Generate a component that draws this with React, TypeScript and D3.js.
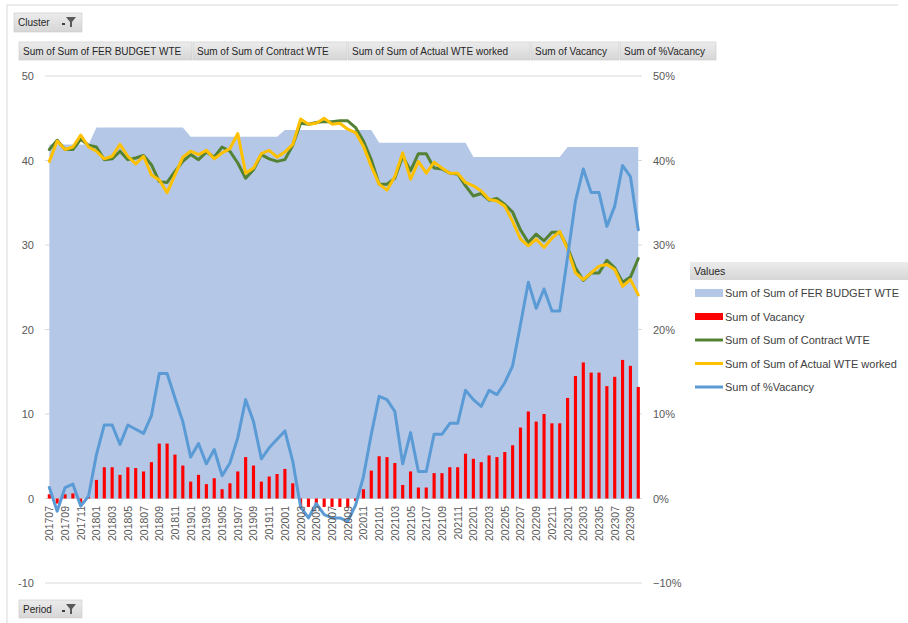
import React from 'react';
import * as d3 from 'd3';

const periods = [
  '201707','201708','201709','201710','201711','201712',
  '201801','201802','201803','201804','201805','201806','201807','201808','201809','201810','201811','201812',
  '201901','201902','201903','201904','201905','201906','201907','201908','201909','201910','201911','201912',
  '202001','202002','202003','202004','202005','202006','202007','202008','202009','202010','202011','202012',
  '202101','202102','202103','202104','202105','202106','202107','202108','202109','202110','202111','202112',
  '202201','202202','202203','202204','202205','202206','202207','202208','202209','202210','202211','202212',
  '202301','202302','202303','202304','202305','202306','202307','202308','202309','202310',
];

const budgetWTE = [
  41.9,41.9,41.9,41.9,41.9,41.9,
  43.9,43.9,43.9,43.9,43.9,43.9,43.9,43.9,43.9,43.9,43.9,43.9,
  42.8,42.8,42.8,42.8,42.8,42.8,42.8,42.8,42.8,42.8,42.8,42.8,
  43.6,43.6,43.6,43.6,43.6,43.6,43.6,43.6,43.6,43.6,43.6,43.6,
  42.1,42.1,42.1,42.1,42.1,42.1,42.1,42.1,42.1,42.1,42.1,42.1,
  40.4,40.4,40.4,40.4,40.4,40.4,40.4,40.4,40.4,40.4,40.4,40.4,
  41.6,41.6,41.6,41.6,41.6,41.6,41.6,41.6,41.6,41.6,
];

const contractWTE = [
  41.3,42.4,41.3,41.3,42.5,41.8,
  41.6,40.1,40.2,41.1,40.1,40.3,40.6,39.5,37.5,37.4,38.7,39.9,
  40.7,40.1,41.0,40.4,41.6,41.1,39.7,37.9,38.9,40.7,40.2,39.9,
  40.1,41.8,44.4,44.3,44.5,44.6,44.6,44.7,44.7,43.9,42.3,40.1,
  37.2,37.2,37.9,40.5,38.8,40.8,40.8,39.1,39.0,38.5,38.4,37.0,
  35.8,36.1,35.3,35.5,34.8,33.9,31.8,30.3,31.3,30.5,31.5,31.5,
  29.7,27.3,25.8,26.7,26.7,28.2,27.3,25.6,26.2,28.4,
];

const actualWTE = [
  39.9,42.3,41.3,41.6,43.0,41.6,
  41.1,40.2,40.5,41.9,40.5,39.6,40.5,38.3,37.7,36.2,38.3,40.4,
  41.1,40.7,41.2,40.2,40.9,41.4,43.2,38.5,39.1,40.8,41.2,40.4,
  41.0,41.9,44.9,44.3,44.4,45.0,44.3,44.4,43.7,43.3,41.7,39.3,
  37.2,36.5,38.1,40.9,37.8,39.9,38.5,39.8,39.1,38.5,38.5,37.4,
  37.0,36.4,35.4,35.2,34.6,32.8,30.7,29.9,30.7,29.7,30.8,31.6,
  29.5,26.7,25.9,26.7,27.5,27.7,27.1,25.1,25.9,24.1,
];

const vacancy = [
  0.5,-0.6,0.5,0.6,-0.5,0.2,
  2.2,3.7,3.7,2.8,3.7,3.6,3.2,4.3,6.5,6.5,5.2,3.9,
  2.0,2.8,1.7,2.4,1.1,1.8,3.2,4.9,3.9,2.0,2.6,2.9,
  3.5,1.8,-0.9,-1.0,-0.8,-1.0,-1.0,-1.0,-1.1,-0.3,1.1,3.3,
  5.0,4.9,4.2,1.6,3.2,1.3,1.3,3.0,3.0,3.7,3.7,5.3,
  4.7,4.3,5.1,4.9,5.5,6.3,8.4,10.3,9.1,10.0,8.9,8.9,
  11.9,14.5,16.1,14.9,14.9,13.3,14.4,16.4,15.7,13.2,
];

const pctVacancy = [
  0.013,-0.015,0.013,0.017,-0.009,0.003,
  0.052,0.087,0.087,0.064,0.087,0.082,0.077,0.098,0.148,0.148,0.119,0.091,
  0.049,0.065,0.041,0.058,0.027,0.042,0.072,0.117,0.091,0.047,0.060,0.070,
  0.080,0.044,-0.010,-0.023,-0.006,-0.019,-0.023,-0.023,-0.027,-0.008,0.026,0.076,
  0.121,0.117,0.103,0.041,0.078,0.032,0.032,0.076,0.076,0.089,0.089,0.128,
  0.117,0.109,0.128,0.123,0.137,0.157,0.206,0.256,0.225,0.248,0.222,0.222,
  0.286,0.352,0.390,0.362,0.362,0.322,0.346,0.394,0.381,0.318,
];

const leftTicks = [-10, 0, 10, 20, 30, 40, 50];
const rightTicks = [-0.1, 0, 0.1, 0.2, 0.3, 0.4, 0.5];

const fieldButtons = [
  'Sum of Sum of FER BUDGET WTE',
  'Sum of Sum of Contract WTE',
  'Sum of Sum of Actual WTE worked',
  'Sum of Vacancy',
  'Sum of %Vacancy',
];

const legendLabels = [
  'Sum of Sum of FER BUDGET WTE',
  'Sum of Vacancy',
  'Sum of Sum of Contract WTE',
  'Sum of Sum of Actual WTE worked',
  'Sum of %Vacancy',
];

const C = {
  area: '#B4C7E7',
  bar: '#FF0000',
  contract: '#548235',
  actual: '#FFC000',
  pct: '#5B9BD5',
  grid: '#D9D9D9',
  axisText: '#595959',
};

const FONT = '"Liberation Sans", Arial, sans-serif';

function FilterIcon({ x, y }: { x: number; y: number }) {
  return (
    <g transform={`translate(${x},${y})`}>
      <rect x={0} y={7} width={3} height={2} fill="#404040" />
      <path d="M4,1 L14,1 L10,6 L10,11 L8,11 L8,6 Z" fill="#595959" />
    </g>
  );
}

function Button({ x, y, w, h, label, icon }: { x: number; y: number; w: number; h: number; label: string; icon?: boolean }) {
  return (
    <g>
      <rect x={x} y={y} width={w} height={h} fill="url(#btnGrad)" stroke="#c8c8c8" strokeWidth={0.6} />
      <text x={x + 4} y={y + h / 2} dominantBaseline="central" fontSize={10} fill="#262626" fontFamily={FONT}>
        {label}
      </text>
      {icon ? <FilterIcon x={x + w - 20} y={y + 3} /> : null}
    </g>
  );
}

export default function App() {
  const x = d3.scaleBand<string>().domain(periods).range([45.4, 642.2]).padding(0);
  const yL = d3.scaleLinear().domain([-10, 50]).range([583, 76]);
  const yR = d3.scaleLinear().domain([-0.1, 0.5]).range([583, 76]);
  const cx = (p: string) => (x(p) as number) + x.bandwidth() / 2;
  const barW = x.bandwidth() * 0.4;

  const area = d3
    .area<number>()
    .x((_, i) => cx(periods[i]))
    .y0(() => yL(0))
    .y1((d) => yL(d))(budgetWTE) as string;

  const lineL = d3
    .line<number>()
    .x((_, i) => cx(periods[i]))
    .y((d) => yL(d));
  const lineR = d3
    .line<number>()
    .x((_, i) => cx(periods[i]))
    .y((d) => yR(d));

  const btnEdges = [19, 193, 348, 531, 620, 717];
  const pctFmt = d3.format('.0%');

  const legendY = [293, 316.5, 340, 363.5, 387];

  return (
    <div style={{ position: 'absolute', left: 0, top: 0 }}>
      <svg width={908} height={623} style={{ display: 'block', background: '#fff' }} fontFamily={FONT}>
        <defs>
          <linearGradient id="btnGrad" x1="0" y1="0" x2="0" y2="1">
            <stop offset="0" stopColor="#ececec" />
            <stop offset="1" stopColor="#d6d6d6" />
          </linearGradient>
        </defs>

        {/* chart area border */}
        <line x1={7} y1={5} x2={898} y2={5} stroke="#d9d9d9" strokeWidth={1} />
        <line x1={7} y1={5} x2={7} y2={623} stroke="#d9d9d9" strokeWidth={1} />

        {/* pivot field buttons */}
        <Button x={14} y={13} w={68} h={19} label="Cluster" icon />
        {fieldButtons.map((lab, i) => (
          <Button key={lab} x={btnEdges[i]} y={42} w={btnEdges[i + 1] - btnEdges[i] - 1} h={18} label={lab} />
        ))}
        <Button x={19} y={600} w={63} h={18} label="Period" icon />

        {/* gridlines */}
        {leftTicks.map((t) => (
          <line key={t} x1={45} x2={642} y1={yL(t)} y2={yL(t)} stroke={C.grid} strokeWidth={1} />
        ))}

        {/* budget area */}
        <path d={area} fill={C.area} />

        {/* vacancy bars */}
        {vacancy.map((v, i) => (
          <rect
            key={periods[i]}
            x={cx(periods[i]) - barW / 2}
            width={barW}
            y={Math.min(yL(v), yL(0))}
            height={Math.abs(yL(v) - yL(0))}
            fill={C.bar}
          />
        ))}

        {/* lines */}
        <path d={lineL(contractWTE) as string} fill="none" stroke={C.contract} strokeWidth={3} strokeLinejoin="round" strokeLinecap="round" />
        <path d={lineL(actualWTE) as string} fill="none" stroke={C.actual} strokeWidth={3} strokeLinejoin="round" strokeLinecap="round" />
        <path d={lineR(pctVacancy) as string} fill="none" stroke={C.pct} strokeWidth={3} strokeLinejoin="round" strokeLinecap="round" />

        {/* left axis labels */}
        {leftTicks.map((t) => (
          <text key={t} x={34} y={yL(t)} textAnchor="end" dominantBaseline="central" fontSize={11} fill={C.axisText}>
            {t}
          </text>
        ))}
        {/* right axis labels */}
        {rightTicks.map((t) => (
          <text key={t} x={653} y={yR(t)} textAnchor="start" dominantBaseline="central" fontSize={11} fill={C.axisText}>
            {pctFmt(t)}
          </text>
        ))}

        {/* category labels */}
        {periods.map((p, i) =>
          i % 2 === 0 ? (
            <text
              key={p}
              transform={`translate(${cx(p)},${506}) rotate(-90)`}
              textAnchor="end"
              dominantBaseline="central"
              fontSize={10.5}
              fill={C.axisText}
            >
              {p}
            </text>
          ) : null
        )}

        {/* legend */}
        <rect x={690} y={262} width={218} height={18} fill="url(#btnGrad)" />
        <text x={694} y={271} dominantBaseline="central" fontSize={10.5} fill="#262626">
          Values
        </text>
        {legendLabels.map((lab, i) => {
          const ly = legendY[i];
          let sw: React.ReactNode;
          if (i === 0) sw = <rect x={695} y={ly - 4} width={28} height={8} fill={C.area} />;
          else if (i === 1) sw = <rect x={695} y={ly - 3.5} width={28} height={7} fill={C.bar} />;
          else {
            const col = i === 2 ? C.contract : i === 3 ? C.actual : C.pct;
            sw = <line x1={695} x2={723} y1={ly} y2={ly} stroke={col} strokeWidth={3} />;
          }
          return (
            <g key={lab}>
              {sw}
              <text x={725} y={ly} dominantBaseline="central" fontSize={11} fill="#404040">
                {lab}
              </text>
            </g>
          );
        })}
      </svg>
    </div>
  );
}
